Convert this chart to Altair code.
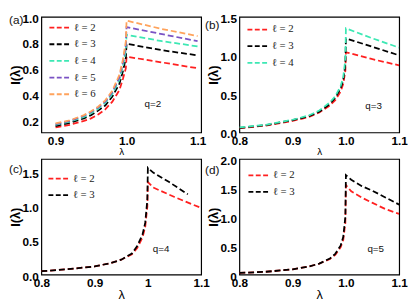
import altair as alt
import pandas as pd

# ---------------- data ----------------
# panel (a) q=2
a_lam_pre = [0.9, 0.92, 0.94, 0.95, 0.96, 0.97, 0.98, 0.99, 0.995, 0.999, 1.0]
a_lam_post = [1.0, 1.05, 1.1]
a_ells = ["ℓ = 2", "ℓ = 3", "ℓ = 4", "ℓ = 5", "ℓ = 6"]
a_pre = [
    [0.14, 0.16, 0.19, 0.21, 0.24, 0.28, 0.34, 0.43, 0.52, 0.60, 0.69],
    [0.15, 0.175, 0.21, 0.235, 0.27, 0.31, 0.38, 0.48, 0.58, 0.68, 0.79],
    [0.16, 0.185, 0.22, 0.25, 0.285, 0.33, 0.40, 0.51, 0.62, 0.74, 0.86],
    [0.165, 0.19, 0.23, 0.26, 0.295, 0.34, 0.415, 0.53, 0.65, 0.78, 0.92],
    [0.17, 0.195, 0.235, 0.265, 0.30, 0.35, 0.425, 0.55, 0.67, 0.81, 0.97],
]
a_post = [
    [0.69, 0.645, 0.60],
    [0.79, 0.74, 0.70],
    [0.86, 0.81, 0.77],
    [0.92, 0.865, 0.81],
    [0.97, 0.905, 0.85],
]

# panel (b) q=3
b_lam_pre = [0.8, 0.85, 0.9, 0.93, 0.95, 0.97, 0.98, 0.99, 0.995, 0.999, 1.0]
b_lam_post = [1.0, 1.05, 1.1]
b_ells = ["ℓ = 2", "ℓ = 3", "ℓ = 4"]
b_pre = [
    [0.055, 0.09, 0.15, 0.20, 0.26, 0.35, 0.42, 0.53, 0.63, 0.80, 1.04],
    [0.06, 0.095, 0.16, 0.21, 0.27, 0.37, 0.45, 0.57, 0.68, 0.88, 1.22],
    [0.065, 0.10, 0.165, 0.22, 0.285, 0.39, 0.47, 0.60, 0.72, 0.95, 1.35],
]
b_post = [
    [1.04, 0.95, 0.87],
    [1.22, 1.11, 1.00],
    [1.35, 1.22, 1.10],
]

# panel (c) q=4
c_lam_pre = [0.8, 0.85, 0.9, 0.93, 0.95, 0.97, 0.98, 0.99, 0.995, 0.999, 1.0]
c_ells = ["ℓ = 2", "ℓ = 3"]
c_pre = [
    [0.05, 0.08, 0.12, 0.17, 0.22, 0.30, 0.39, 0.55, 0.70, 1.00, 1.36],
    [0.05, 0.08, 0.12, 0.17, 0.22, 0.31, 0.42, 0.59, 0.76, 1.10, 1.57],
]
c_lam_post = [
    [1.0, 1.01, 1.05, 1.1],
    [1.0, 1.01, 1.04, 1.075],
]
c_post = [
    [1.36, 1.28, 1.14, 0.98],
    [1.57, 1.50, 1.36, 1.18],
]

# panel (d) q=5
d_lam_pre = [0.8, 0.85, 0.9, 0.93, 0.95, 0.97, 0.98, 0.99, 0.995, 0.999, 1.0]
d_lam_post = [1.0, 1.01, 1.03, 1.05, 1.075, 1.1]
d_ells = ["ℓ = 2", "ℓ = 3"]
d_pre = [
    [0.03, 0.05, 0.09, 0.14, 0.19, 0.27, 0.34, 0.47, 0.60, 0.90, 1.55],
    [0.03, 0.05, 0.09, 0.14, 0.19, 0.28, 0.36, 0.50, 0.65, 1.00, 1.72],
]
d_post = [
    [1.55, 1.44, 1.33, 1.24, 1.13, 1.05],
    [1.72, 1.64, 1.53, 1.45, 1.33, 1.21],
]

colors5 = ["#ff2020", "#000000", "#3de8b4", "#7a52c4", "#ffa35c"]

q_texts = ["q=2", "q=3", "q=4", "q=5"]
q_lam = [1.037, 1.052, 1.025, 1.056]
q_val = [0.32, 0.34, 0.38, 0.45]
tags = ["(a)", "(b)", "(c)", "(d)"]


def make_df(ells, lam_pre, pre, lam_post, post):
    rows = []
    for k, name in enumerate(ells):
        lp = lam_post[k] if isinstance(lam_post[0], list) else lam_post
        i = 0
        for x, v in zip(lam_pre, pre[k]):
            rows.append({"lam": x, "I": v, "ell": name, "i": i})
            i += 1
        for x, v in zip(lp, post[k]):
            rows.append({"lam": x, "I": v, "ell": name, "i": i})
            i += 1
    return pd.DataFrame(rows)


def panel(df, ells, xdom, xvals, xlabexpr, ydom, yvals, ylabexpr, xtsize,
          leg_x, leg_y, leg_pad, qi, tag_x, tag_y):
    xenc = alt.X("lam:Q", scale=alt.Scale(domain=xdom, nice=False, zero=False),
                 axis=alt.Axis(values=xvals, labelExpr=xlabexpr, title="λ",
                               titleFontSize=xtsize, labelFlush=False))
    yenc = alt.Y("I:Q", scale=alt.Scale(domain=ydom, nice=False, zero=False),
                 axis=alt.Axis(values=yvals, labelExpr=ylabexpr, title="I(λ)"))
    lines = alt.Chart(df).mark_line(strokeDash=[6, 3], strokeWidth=1.8, clip=True).encode(
        x=xenc, y=yenc,
        color=alt.Color("ell:N", scale=alt.Scale(domain=ells, range=colors5[:len(ells)]),
                        legend=alt.Legend(orient="none", legendX=leg_x, legendY=leg_y,
                                          title=None, padding=0, symbolType="stroke",
                                          symbolSize=420, symbolStrokeWidth=1.8,
                                          symbolDash=[5, 2.5], labelFont="Liberation Serif",
                                          labelFontSize=11, labelColor="#222222",
                                          labelFontWeight="normal",
                                          labelOffset=3, rowPadding=leg_pad)),
        order=alt.Order("i:Q"),
    )
    qdf = pd.DataFrame({"lam": [q_lam[qi]], "I": [q_val[qi]], "t": [q_texts[qi]]})
    qtext = alt.Chart(qdf).mark_text(fontSize=10, font="Liberation Sans", color="#111111").encode(
        x=xenc, y=yenc, text="t:N")
    tdf = pd.DataFrame({"t": [tags[qi]]})
    ttext = alt.Chart(tdf).mark_text(fontSize=12, font="Liberation Sans", align="left",
                                     baseline="middle", color="#111111").encode(
        x=alt.value(tag_x), y=alt.value(tag_y), text="t:N")
    return alt.layer(lines, qtext, ttext).properties(width=163, height=118)


df_a = make_df(a_ells, a_lam_pre, a_pre, a_lam_post, a_post)
df_b = make_df(b_ells, b_lam_pre, b_pre, b_lam_post, b_post)
df_c = make_df(c_ells, c_lam_pre, c_pre, c_lam_post, c_post)
df_d = make_df(d_ells, d_lam_pre, d_pre, d_lam_post, d_post)

one_dec = "format(datum.value, '.1f')"
pa = panel(df_a, a_ells, [0.88, 1.105], [0.9, 1.0, 1.1], one_dec,
           [0.1, 1.0], [0.2, 0.4, 0.6, 0.8, 1.0], one_dec, 10, 7, -0.5, -4.2, 0, -33, 3.5)
pb = panel(df_b, b_ells, [0.8, 1.1], [0.8, 0.9, 1.0, 1.1], one_dec,
           [0, 1.5], [0, 0.5, 1.0, 1.5], one_dec, 10, 7, 1.5, -1.8, 1, -35, 8)
pc = panel(df_c, c_ells, [0.8, 1.1], [0.8, 0.9, 1.0, 1.1],
           "datum.value == 1 ? '1' : format(datum.value, '.1f')",
           [0, 1.7], [0, 0.5, 1.0, 1.5], one_dec, 13, 6, 8.5, -1.1, 2, -33, 10)
pd_ = panel(df_d, d_ells, [0.8, 1.1], [0.8, 0.9, 1.0, 1.1], one_dec,
            [0, 2.0], [0, 0.5, 1.0, 1.5, 2.0],
            "datum.value == 0 ? '0' : format(datum.value, '.1f')", 13, 8, 5.2, -3.1, 3, -35, 11)

chart = alt.concat(pa, pb, pc, pd_, columns=2, spacing={"row": 27, "column": 39}).properties(
    bounds="flush", padding=0
).resolve_scale(color="independent").resolve_legend(color="independent").configure_view(
    stroke="black", strokeWidth=1.2
).configure_axis(
    grid=False, ticks=False, domain=False,
    labelFont="Liberation Sans", labelFontWeight="bold", labelFontSize=12,
    labelColor="#000000", labelPadding=3,
    titleFont="Liberation Sans", titleColor="#000000",
).configure_axisY(
    titleFontWeight="bold", titleFontSize=13, titlePadding=0, labelOffset=1.5,
).configure_axisX(
    titleFontWeight="normal", titlePadding=0,
)

chart.save("out.html", embed_options={"renderer": "svg", "actions": False})
